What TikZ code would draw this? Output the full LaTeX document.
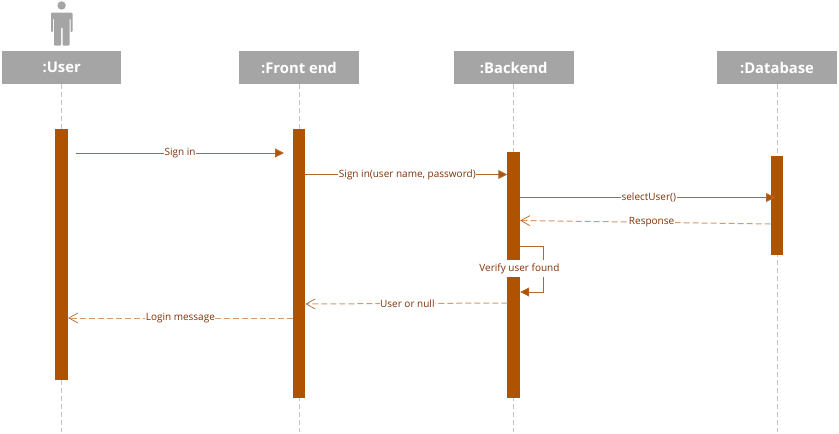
\documentclass[tikz,border=0pt]{standalone}
\usepackage{fontspec}
\setmainfont{Open Sans}
\usetikzlibrary{arrows.meta}
\definecolor{bar}{HTML}{AF5300}
\definecolor{head}{HTML}{A5A5A5}
\definecolor{life}{HTML}{C4C4C4}
\definecolor{msgline}{HTML}{B5672A}
\definecolor{retline}{HTML}{D39A6C}
\definecolor{msgtext}{HTML}{7E3208}
\tikzset{
 x=1pt,y=-1pt,
 headbox/.style={fill=head,draw=none,text=white,font=\bfseries\fontsize{14.8}{16}\selectfont,minimum height=33pt,inner sep=0pt},
 lifeline/.style={life,line width=1pt,dash pattern=on 5pt off 3pt},
 actbar/.style={fill=bar,draw=none,minimum width=12.5pt,inner sep=0pt},
 callmsg/.style={msgline,line width=1pt,-{Triangle[length=9pt,width=9pt,fill=bar]}},
 retmsg/.style={retline,line width=1pt,dash pattern=on 6pt off 3pt,-{Straight Barb[length=9pt,width=10pt,color=msgline,line width=.7pt]}},
 msglabel/.style={fill=white,text=msgtext,font=\fontsize{10}{11}\selectfont,inner xsep=.5pt,inner ysep=1pt},
}
\begin{document}
\begin{tikzpicture}
\useasboundingbox (0,0) rectangle (839,434);
% actor
\fill[head] (61.6,5.5) circle (4.2) coordinate (actorhead);
\fill[head,rounded corners=1pt] (51,12.5) -- (72.5,12.5) -- (72.5,32) -- (70.5,32) -- (70.5,18) -- (69.5,18) -- (69.5,45.5) -- (62.5,45.5) -- (62.5,27) -- (61,27) -- (61,45.5) -- (54,45.5) -- (54,18) -- (53,18) -- (53,32) -- (51,32) -- cycle;
% heads
\node[headbox,minimum width=119.5pt] (hu) at (61.7,67.5) {:User};
\node[headbox,minimum width=119.5pt] (hf) at (299,67.5) {:Front end};
\node[headbox,minimum width=120pt] (hb) at (513.7,67.5) {:Backend};
\node[headbox,minimum width=120pt] (hd) at (777,67.5) {:Database};
% lifeline ends
\coordinate (eu) at (61.7,432);
\coordinate (ef) at (299,432);
\coordinate (eb) at (513.7,432);
\coordinate (ed) at (777,432);
\draw[lifeline] (hu.south) -- (eu);
\draw[lifeline] (hf.south) -- (ef);
\draw[lifeline] (hb.south) -- (eb);
\draw[lifeline] (hd.south) -- (ed);
% activations
\node[actbar,minimum height=251pt] (au) at (61.7,254.5) {};
\node[actbar,minimum height=269pt] (af) at (299,263.5) {};
\node[actbar,minimum height=246pt] (ab) at (513.7,275) {};
\node[actbar,minimum height=99pt] (ad) at (777,205.5) {};
% free ends
\coordinate (s1) at (76,153);
\coordinate (e1) at (284,153);
\coordinate (s2) at (af.east |- 0,174.5);
\coordinate (e2) at (ab.west |- 0,174.5);
\coordinate (s3) at (ab.east |- 0,197.5);
\coordinate (e3) at (775,197.5);
\coordinate (s4) at (ad.west |- 0,224);
\coordinate (e4) at (ab.east |- 0,220.5);
\coordinate (s5) at (ab.east |- 0,246.5);
\coordinate (c5a) at (543.5,246.5);
\coordinate (c5b) at (543.5,292);
\coordinate (e5) at (ab.east |- 0,292);
\coordinate (s6) at (ab.west |- 0,303);
\coordinate (e6) at (af.east |- 0,304);
\coordinate (s7) at (af.west |- 0,318);
\coordinate (e7) at (au.east |- 0,318);
% messages
\draw[callmsg] (s1) -- node[msglabel,pos=.5,yshift=-.5pt] (l1) {Sign in} (e1);
\draw[callmsg] (s2) -- node[msglabel,pos=.505] (l2) {Sign in(user name, password)} (e2);
\draw[callmsg] (s3) -- node[msglabel,pos=.505] (l3) {selectUser()} (e3);
\draw[retmsg] (s4) -- node[msglabel,pos=.475] (l4) {Response} (e4);
\draw[msgline,line width=.8pt,-{Triangle[length=9pt,width=9pt,fill=bar]}] (s5) -- (c5a) -- (c5b) -- (e5);
\node[msglabel,inner xsep=1pt,inner ysep=3pt] (l5) at (519.5,268.5) {Verify user found};
\draw[retmsg] (s6) -- node[msglabel,pos=.495] (l6) {User or null} (e6);
\draw[retmsg] (s7) -- node[msglabel,pos=.5] (l7) {Login message} (e7);
\end{tikzpicture}
\end{document}
